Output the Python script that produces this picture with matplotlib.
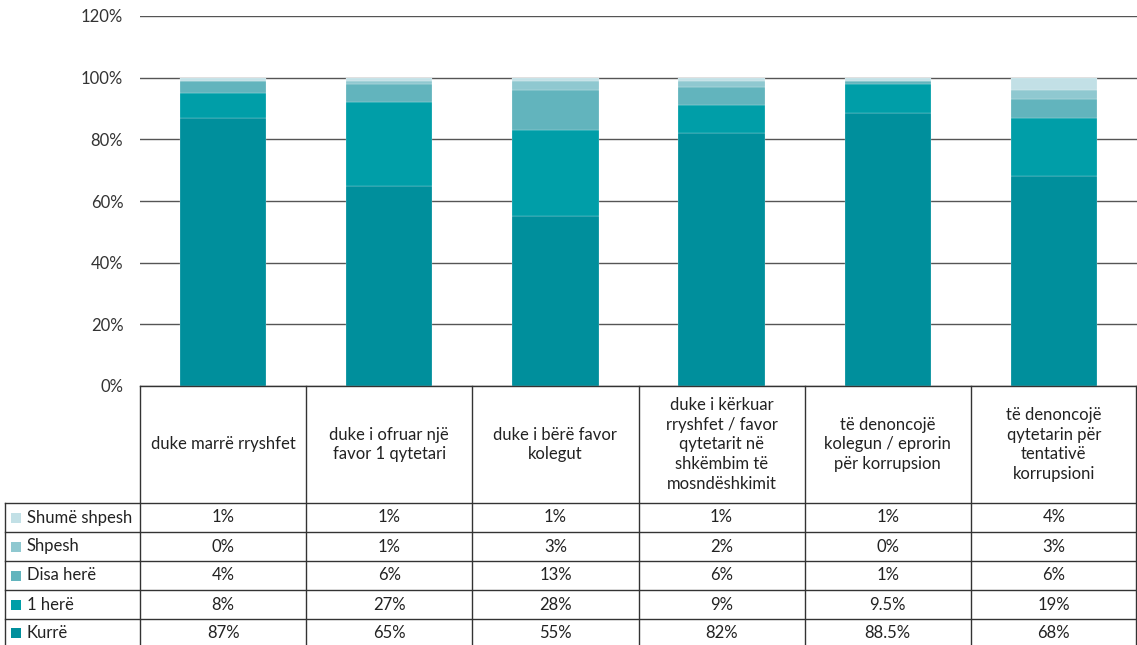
import matplotlib.pyplot as plt
from matplotlib.patches import Rectangle

plt.rcParams['font.family'] = ['Lato', 'DejaVu Sans']

# categories (table header)
categories = ["duke marrë rryshfet",
              "duke i ofruar një\nfavor 1 qytetari",
              "duke i bërë favor\nkolegut",
              "duke i kërkuar\nrryshfet / favor\nqytetarit në\nshkëmbim të\nmosndëshkimit",
              "të denoncojë\nkolegun / eprorin\npër korrupsion",
              "të denoncojë\nqytetarin për\ntentativë\nkorrupsioni"]

# series, in percent (bottom to top in the stack)
kurre = [87, 65, 55, 82, 88.5, 68]
nje_here = [8, 27, 28, 9, 9.5, 19]
disa_here = [4, 6, 13, 6, 1, 6]
shpesh = [0, 1, 3, 2, 0, 3]
shume_shpesh = [1, 1, 1, 1, 1, 4]

series_names = ["Kurrë", "1 herë", "Disa herë", "Shpesh", "Shumë shpesh"]
series = [kurre, nje_here, disa_here, shpesh, shume_shpesh]
colors = ["#008f9c", "#009ea8", "#62b4bd", "#8fc8d0", "#c2e0e6"]

W, H = 1137, 645
fig = plt.figure(figsize=(W / 100, H / 100), dpi=100)
ax = fig.add_axes([140 / W, (H - 386) / H, 997 / W, 370 / H])

x = list(range(len(categories)))
bottom = [0] * len(categories)
for vals, col in zip(series, colors):
    ax.bar(x, [v / 100 for v in vals], width=0.52, bottom=[b / 100 for b in bottom],
           color=col, edgecolor="white", linewidth=0.15, zorder=3)
    bottom = [b + v for b, v in zip(bottom, vals)]

ax.set_xlim(-0.5, len(categories) - 0.5)
ax.set_ylim(0, 1.2)
ax.set_yticks([0, 0.2, 0.4, 0.6, 0.8, 1.0, 1.2])
ax.set_yticklabels([f"{int(round(t * 100))}%" for t in ax.get_yticks()])
ax.tick_params(axis='y', length=0, pad=12, labelsize=12, labelcolor="#333333")
ax.set_xticks([])
ax.grid(axis='y', color="#555555", linewidth=1.0, zorder=0)
for s in ["top", "right", "left", "bottom"]:
    ax.spines[s].set_visible(False)

# table drawn under the axes
tr = ax.get_xaxis_transform()
col_w = 997 / len(categories)          # px per data unit
def py(ypx):
    return (386 - ypx) / 370

row_edges = [503, 532, 561, 590, 619, 647]
left = -0.5 - 135 / col_w
right = len(categories) - 0.5 - 1.5 / col_w
line_kw = dict(color="#333333", linewidth=1.0, transform=tr, clip_on=False, zorder=5)

ax.plot([-0.5, right], [0, 0], **line_kw)
for ye in row_edges[:-1]:
    ax.plot([left, right], [py(ye), py(ye)], **line_kw)
ax.plot([left, left], [py(row_edges[0]), py(row_edges[-1])], **line_kw)
for i in range(len(categories)):
    ax.plot([i - 0.5, i - 0.5], [0, py(row_edges[-1])], **line_kw)
ax.plot([right, right], [0, py(row_edges[-1])], **line_kw)

for i, lab in enumerate(categories):
    ax.text(i, py((386 + 503) / 2), lab, transform=tr, ha="center", va="center",
            fontsize=12, color="#222222", linespacing=1.3, clip_on=False)

table_order = list(range(len(series)))[::-1]
for r, si in enumerate(table_order):
    yc = py((row_edges[r] + row_edges[r + 1]) / 2)
    ax.add_patch(Rectangle((left + 6 / col_w, yc - 5 / 370), 10 / col_w, 10 / 370,
                           transform=tr, facecolor=colors[si], edgecolor="none",
                           clip_on=False))
    ax.text(left + 22 / col_w, yc, series_names[si], transform=tr, ha="left",
            va="center", fontsize=12, color="#222222", clip_on=False)
    for i, v in enumerate(series[si]):
        ax.text(i, yc, f"{v:g}%", transform=tr, ha="center", va="center",
                fontsize=12, color="#222222", clip_on=False)

fig.savefig("out.png", dpi=100)
